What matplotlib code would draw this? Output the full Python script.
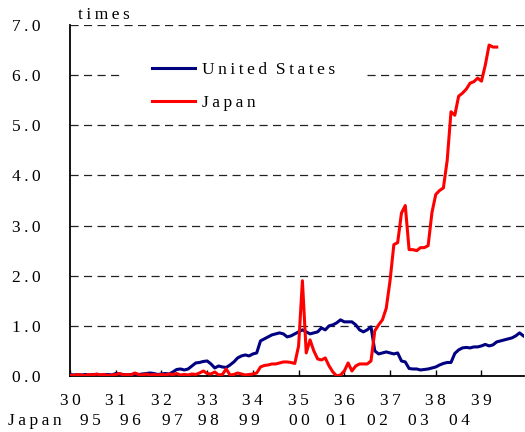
import numpy as np
import matplotlib
matplotlib.use("Agg")
import matplotlib.pyplot as plt
from matplotlib.patches import Rectangle
from matplotlib.transforms import blended_transform_factory

# ---------------- data ----------------
# monthly values, x axis in US years (1930 = 30)
us_values = [
    0.03, 0.02, 0.03, 0.02, 0.03, 0.02, 0.03, 0.03, 0.02, 0.03, 0.03, 0.02,
    0.05, 0.04, 0.03, 0.02, 0.03, 0.04, 0.03, 0.04, 0.05, 0.06, 0.05, 0.03,
    0.04, 0.05, 0.04, 0.08, 0.13, 0.14, 0.12, 0.14, 0.20, 0.26, 0.27, 0.29,
    0.30, 0.24, 0.16, 0.20, 0.18, 0.17, 0.22, 0.28, 0.36, 0.40, 0.42, 0.40,
    0.44, 0.46, 0.70, 0.74, 0.78, 0.82, 0.84, 0.86, 0.84, 0.78, 0.80, 0.84,
    0.88, 0.92, 0.88, 0.84, 0.86, 0.88, 0.96, 0.92, 1.00, 1.02, 1.06, 1.12,
    1.08, 1.08, 1.08, 1.02, 0.92, 0.88, 0.92, 0.98, 0.50, 0.44, 0.46, 0.48,
    0.46, 0.44, 0.46, 0.30, 0.28, 0.15, 0.14, 0.14, 0.12, 0.13, 0.14, 0.16,
    0.18, 0.22, 0.25, 0.27, 0.27, 0.45, 0.52, 0.56, 0.57, 0.56, 0.58, 0.58,
    0.60, 0.63, 0.60, 0.62, 0.68, 0.70, 0.72, 0.74, 0.76, 0.80, 0.86, 0.80,
]
japan_values = [
    0.02, 0.01, 0.03, 0.02, 0.01, 0.03, 0.02, 0.04, 0.02, 0.03, 0.01, 0.02,
    0.03, 0.05, 0.02, 0.03, 0.02, 0.06, 0.03, 0.02, 0.04, 0.02, 0.03, 0.02,
    0.03, 0.02, 0.04, 0.03, 0.05, 0.02, 0.03, 0.02, 0.04, 0.03, 0.06, 0.10,
    0.05, 0.04, 0.08, 0.02, 0.03, 0.14, 0.02, 0.03, 0.06, 0.04, 0.02, 0.03,
    0.04, 0.06, 0.18, 0.21, 0.22, 0.24, 0.24, 0.26, 0.28, 0.28, 0.27, 0.25,
    0.60, 1.90, 0.46, 0.72, 0.50, 0.34, 0.32, 0.36, 0.20, 0.08, 0.00, 0.02,
    0.10, 0.26, 0.10, 0.20, 0.24, 0.24, 0.24, 0.30, 0.90, 1.02, 1.12, 1.35,
    1.90, 2.62, 2.66, 3.25, 3.40, 2.52, 2.52, 2.50, 2.56, 2.56, 2.60, 3.26,
    3.62, 3.70, 3.75, 4.30, 5.27, 5.20, 5.58, 5.64, 5.72, 5.84, 5.87, 5.94,
    5.88, 6.20, 6.60, 6.56, 6.56,
]
us_years = [30, 31, 32, 33, 34, 35, 36, 37, 38, 39]
japan_labels = ["95", "96", "97", "98", "99", "00", "01", "02", "03", "04"]
japan_label_pos = [30.44, 31.33, 32.23, 33.03, 33.93, 35.02, 35.83, 36.72, 37.62, 38.52]
y_ticks = [0, 1, 2, 3, 4, 5, 6, 7]
series_names = ["United States", "Japan"]

# ---------------- style ----------------
FONT = "Liberation Serif"
TS = "\u2009"

def spaced(s):
    return TS.join(list(s))

plt.rcParams["font.family"] = [FONT, "DejaVu Serif"]

fig = plt.figure(figsize=(5.25, 4.32), dpi=100)
ax = fig.add_axes([70 / 525, 56 / 432, 454 / 525, 351 / 432])

t_us = 30 + np.arange(len(us_values)) / 12.0
t_jp = 30 + np.arange(len(japan_values)) / 12.0

ax.plot(t_us, us_values, color="#000080", lw=2.2, zorder=3,
        label=spaced("United") + "  " + spaced("States"))
ax.plot(t_jp, japan_values, color="#FF0000", lw=2.2, zorder=3,
        label=spaced("Japan"))

ax.set_xlim(30, 39.93)
ax.set_ylim(0, 7)

for v in y_ticks[1:]:
    ax.axhline(v, color="#222222", lw=0.9, dashes=(6.5, 4.3), zorder=1)

# white legend background covering gridline
ax.add_patch(Rectangle((0.117, 5.55 / 7), 0.533, 0.9 / 7, transform=ax.transAxes,
                       facecolor="white", edgecolor="none", zorder=2))

ax.spines["top"].set_visible(False)
ax.spines["right"].set_visible(False)
ax.spines["left"].set_linewidth(1.3)
ax.spines["bottom"].set_linewidth(1.3)

ax.set_xticks(us_years)
ax.set_xticklabels([spaced(str(y)) for y in us_years])
ax.set_yticks(y_ticks)
ax.set_yticklabels([spaced(f"{v:.1f}") for v in y_ticks])
ax.tick_params(axis="x", direction="in", length=4, width=1, pad=12, labelsize=12.5)
ax.tick_params(axis="y", direction="in", length=0, pad=21, labelsize=12.5)

# Japan year row
trans = blended_transform_factory(ax.transData, fig.transFigure)
fig.text(35 / 525, 11 / 432, spaced("Japan"), ha="center", va="center", fontsize=12.5)
for pos, lab in zip(japan_label_pos, japan_labels):
    ax.text(pos, 11 / 432, spaced(lab), transform=trans, ha="center", va="center",
            fontsize=12.5, clip_on=False)

fig.text(104 / 525, 1 - 15 / 432, spaced("times"), ha="center", va="center", fontsize=12.5)

leg = ax.legend(loc="upper left", bbox_to_anchor=(145 / 525, 1 - 55 / 432),
                bbox_transform=fig.transFigure, frameon=False, fontsize=12.5,
                handlelength=2.5, handletextpad=0.4, labelspacing=0.95,
                borderaxespad=0)
leg.set_zorder(4)

fig.savefig("out.png", dpi=100)
